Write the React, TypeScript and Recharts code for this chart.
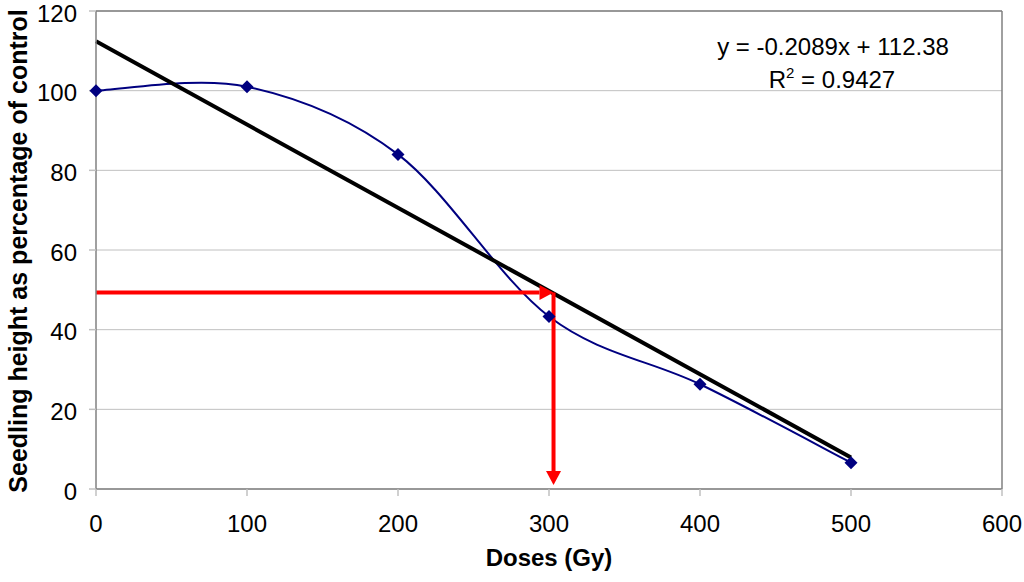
import React from 'react';
import {
  ComposedChart,
  Line,
  XAxis,
  YAxis,
  CartesianGrid,
  ReferenceLine,
  Customized,
} from 'recharts';

// ---- data ----
const doses = [0, 100, 200, 300, 400, 500];
const heights = [100, 101, 84, 43.3, 26.3, 6.6];
const trendDoses = [0, 500];
const trendValues = [112.38, 7.93];
const xTicks = [0, 100, 200, 300, 400, 500, 600];
const yTicks = [0, 20, 40, 60, 80, 100, 120];
const arrowDose = 303;
const arrowHeight = 49.3;
const arrowFloor = 1;
const equationText = 'y = -0.2089x + 112.38';
const r2Value = '0.9427';
const xLabel = 'Doses (Gy)';
const yLabel = 'Seedling height as percentage of control';

const mainData = doses.map((d, i) => ({ dose: d, height: heights[i] }));
const trendData = trendDoses.map((d, i) => ({ dose: d, trend: trendValues[i] }));

const FONT = '"Liberation Sans", Arial, sans-serif';

// Excel-like smoothed curve (Catmull-Rom as cubic Bezier)
const excelCurve = (context: any) => {
  let pts: number[][] = [];
  return {
    areaStart() {},
    areaEnd() {},
    lineStart() {
      pts = [];
    },
    point(x: number, y: number) {
      pts.push([+x, +y]);
    },
    lineEnd() {
      const n = pts.length;
      if (!n) return;
      context.moveTo(pts[0][0], pts[0][1]);
      for (let i = 0; i < n - 1; i++) {
        const p0 = pts[Math.max(i - 1, 0)];
        const p1 = pts[i];
        const p2 = pts[i + 1];
        const p3 = pts[Math.min(i + 2, n - 1)];
        const c1x = p1[0] + (p2[0] - p0[0]) / 6;
        const c1y = p1[1] + (p2[1] - p0[1]) / 6;
        const c2x = p2[0] - (p3[0] - p1[0]) / 6;
        const c2y = p2[1] - (p3[1] - p1[1]) / 6;
        context.bezierCurveTo(c1x, c1y, c2x, c2y, p2[0], p2[1]);
      }
    },
  };
};

const Diamond = (props: any) => {
  const { cx, cy, index } = props;
  if (cx == null || cy == null) return <g key={`d-${index}`} />;
  const r = 6.5;
  return (
    <polygon
      key={`d-${index}`}
      points={`${cx},${cy - r} ${cx + r},${cy} ${cx},${cy + r} ${cx - r},${cy}`}
      fill="#000080"
    />
  );
};

const YTick = (props: any) => {
  const { x, y, payload } = props;
  return (
    <text x={x} y={y + 2} dy="0.355em" textAnchor="end" fontSize={24} fontFamily={FONT} fill="#000">
      {payload.value}
    </text>
  );
};

const arrowShape = (props: any) => {
  const { x1, y1, x2, y2 } = props;
  const dx = x2 - x1;
  const dy = y2 - y1;
  const len = Math.hypot(dx, dy) || 1;
  const ux = dx / len;
  const uy = dy / len;
  const headLen = 14;
  const headHalf = 7.5;
  const bx = x2 - ux * headLen;
  const by = y2 - uy * headLen;
  const px = -uy;
  const py = ux;
  return (
    <g>
      <line x1={x1} y1={y1} x2={bx} y2={by} stroke="#ff0000" strokeWidth={4} />
      <polygon
        points={`${x2},${y2} ${bx + px * headHalf},${by + py * headHalf} ${bx - px * headHalf},${by - py * headHalf}`}
        fill="#ff0000"
      />
    </g>
  );
};

const Texts = () => (
  <g fontFamily={FONT} fill="#000">
    <text x={833} y={55} fontSize={24} textAnchor="middle">
      {equationText}
    </text>
    <text x={832} y={88} fontSize={24} textAnchor="middle">
      R
      <tspan fontSize={15} dy={-10}>
        2
      </tspan>
      <tspan dy={10}>{` = ${r2Value}`}</tspan>
    </text>
    <text x={549} y={566} fontSize={24} fontWeight="bold" textAnchor="middle">
      {xLabel}
    </text>
    <text
      x={27}
      y={251}
      fontSize={25}
      fontWeight="bold"
      textAnchor="middle"
      transform="rotate(-90, 27, 251)"
    >
      {yLabel}
    </text>
  </g>
);

export default function App() {
  return (
    <div style={{ position: 'absolute', left: 0, top: 0, width: 1024, height: 582, background: '#fff' }}>
      <ComposedChart
        width={1024}
        height={582}
        data={mainData}
        margin={{ top: 11, right: 22, left: 0, bottom: 0 }}
      >
        <CartesianGrid vertical={false} stroke="#c0c0c0" strokeWidth={1} />
        <XAxis
          type="number"
          dataKey="dose"
          domain={[0, 600]}
          ticks={xTicks}
          interval={0}
          height={93}
          tickSize={7}
          tickMargin={19}
          axisLine={{ stroke: '#808080', strokeWidth: 1.5 }}
          tickLine={{ stroke: '#c0c0c0', strokeWidth: 1.5 }}
          tick={{ fill: '#000', fontSize: 24, fontFamily: FONT }}
        />
        <YAxis
          type="number"
          domain={[0, 120]}
          ticks={yTicks}
          interval={0}
          width={96}
          tickSize={7}
          tickMargin={12}
          axisLine={{ stroke: '#808080', strokeWidth: 1.5 }}
          tickLine={{ stroke: '#c0c0c0', strokeWidth: 1.5 }}
          tick={<YTick />}
        />
        <ReferenceLine y={120} stroke="#808080" strokeWidth={1.5} />
        <ReferenceLine x={600} stroke="#808080" strokeWidth={1.5} />
        <Line
          dataKey="height"
          type={excelCurve as any}
          stroke="#000080"
          strokeWidth={2}
          dot={Diamond}
          activeDot={false}
          isAnimationActive={false}
        />
        <Line
          data={trendData}
          dataKey="trend"
          type="linear"
          stroke="#000000"
          strokeWidth={4}
          dot={false}
          activeDot={false}
          isAnimationActive={false}
        />
        <ReferenceLine
          segment={[
            { x: 0, y: arrowHeight },
            { x: arrowDose, y: arrowHeight },
          ]}
          shape={arrowShape}
        />
        <ReferenceLine
          segment={[
            { x: arrowDose, y: arrowHeight },
            { x: arrowDose, y: arrowFloor },
          ]}
          shape={arrowShape}
        />
        <Customized component={<Texts />} />
      </ComposedChart>
    </div>
  );
}
